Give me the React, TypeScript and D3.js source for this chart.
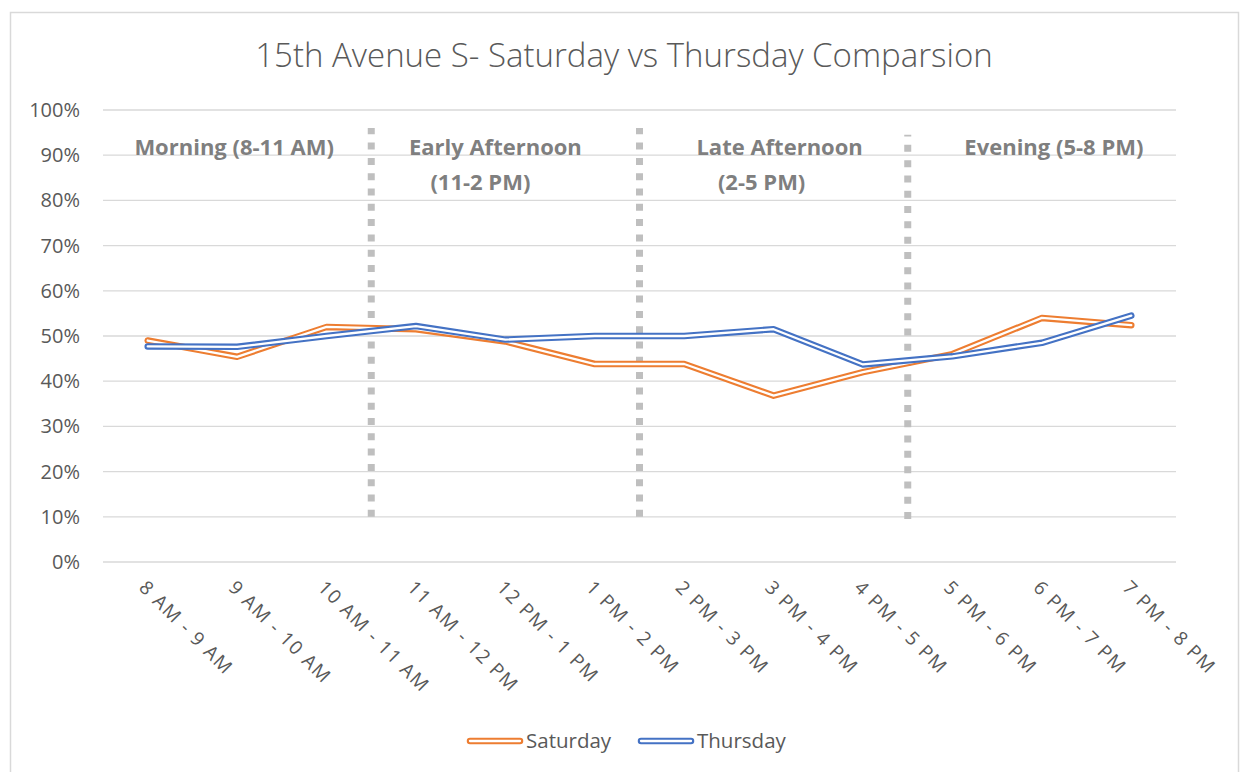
import React from 'react';
import * as d3 from 'd3';

const categories = [
  '8 AM - 9 AM', '9 AM - 10 AM', '10 AM - 11 AM', '11 AM - 12 PM',
  '12 PM - 1 PM', '1 PM - 2 PM', '2 PM - 3 PM', '3 PM - 4 PM',
  '4 PM - 5 PM', '5 PM - 6 PM', '6 PM - 7 PM', '7 PM - 8 PM',
];
const saturday = [0.49, 0.454, 0.52, 0.515, 0.488, 0.438, 0.438, 0.368, 0.42, 0.46, 0.54, 0.524];
const thursday = [0.477, 0.476, 0.5, 0.522, 0.492, 0.5, 0.5, 0.515, 0.437, 0.455, 0.485, 0.545];
const yTicks = [0, 0.1, 0.2, 0.3, 0.4, 0.5, 0.6, 0.7, 0.8, 0.9, 1];

// period annotations: boundaries after these category indexes
const dividers = [
  { after: 2, top: 0.96, bottom: 0.1 },
  { after: 5, top: 0.96, bottom: 0.1 },
  { after: 8, top: 0.945, bottom: 0.095 },
];
const periods = [
  { lines: ['Morning (8-11 AM)'], from: 0, to: 2 },
  { lines: ['Early Afternoon', '(11-2 PM)'], from: 3, to: 5 },
  { lines: ['Late Afternoon', '(2-5 PM)'], from: 6, to: 8 },
  { lines: ['Evening (5-8 PM)'], from: 9, to: 11 },
];

const series = [
  { name: 'Saturday', values: saturday, color: '#ed7d31' },
  { name: 'Thursday', values: thursday, color: '#4472c4' },
];

const W = 1249;
const H = 772;
const font = '"Open Sans", "Liberation Sans", sans-serif';

// text boxes in the original were placed by hand, a bit off-centre
const labelShift = [[-3], [-10, -25], [6, -12], [12]];

const App = () => {
  const x = d3.scaleBand<string>().domain(categories).range([103, 1176]);
  const cx = (i: number) => (x(categories[i]) as number) + x.bandwidth() / 2;
  const y = d3.scaleLinear().domain([0, 1]).range([562, 110]);
  const line = d3.line<number>().x((_, i) => cx(i)).y(d => y(d));
  const pct = d3.format('.0%');

  return (
    <svg width={W} height={H} style={{ position: 'absolute', left: 0, top: 0, background: '#fff' }}>
      <rect x={10.5} y={12.5} width={1228} height={780} fill="#fff" stroke="#d9d9d9" strokeWidth={1.5} />
      <text x={624} y={67} textAnchor="middle" fontFamily={font} fontWeight={300} fontSize={33} fill="#595959">
        15th Avenue S- Saturday vs Thursday Comparsion
      </text>

      {yTicks.map(t => (
        <g key={t}>
          <line x1={103} x2={1176} y1={y(t)} y2={y(t)} stroke="#d9d9d9" strokeWidth={1.3} />
          <text x={80} y={y(t)} dy="0.35em" textAnchor="end" fontFamily={font} fontSize={20} fill="#595959">
            {pct(t)}
          </text>
        </g>
      ))}

      {categories.map((c, i) => (
        <text key={c} transform={`translate(${cx(i) - 5},${584}) rotate(45)`} fontFamily={font}
          fontSize={19} letterSpacing={1.6} fill="#595959" dy="0.35em">
          {c}
        </text>
      ))}

      {dividers.map(d => {
        const xx = (x(categories[d.after]) as number) + x.bandwidth();
        return (
          <line key={d.after} x1={xx} x2={xx} y1={y(d.bottom)} y2={y(d.top)} stroke="#bfbfbf"
            strokeWidth={7} strokeDasharray="7 8.3" />
        );
      })}

      {periods.map((p, pi) => {
        const mx = (cx(p.from) + cx(p.to)) / 2;
        return (
          <text key={p.lines[0]} textAnchor="middle" fontFamily={font} fontWeight={700} fontSize={22} fill="#7f7f7f">
            {p.lines.map((l, k) => (
              <tspan key={l} x={mx + labelShift[pi][k]} y={155 + k * 35}>{l}</tspan>
            ))}
          </text>
        );
      })}

      {series.map(s => (
        <g key={s.name}>
          <path d={line(s.values) || ''} fill="none" stroke={s.color} strokeWidth={6.5} strokeLinejoin="round" strokeLinecap="round" />
          <path d={line(s.values) || ''} fill="none" stroke="#fff" strokeWidth={2.3} strokeLinejoin="round" strokeLinecap="round" />
        </g>
      ))}

      {series.map((s, i) => {
        const lx = 470 + i * 171;
        return (
          <g key={s.name}>
            <line x1={lx} x2={lx + 50} y1={741} y2={741} stroke={s.color} strokeWidth={6.5} strokeLinecap="round" />
            <line x1={lx} x2={lx + 50} y1={741} y2={741} stroke="#fff" strokeWidth={2.3} strokeLinecap="round" />
            <text x={lx + 56} y={741} dy="0.35em" fontFamily={font} fontSize={20.5} fill="#595959">{s.name}</text>
          </g>
        );
      })}
    </svg>
  );
};

export default App;
